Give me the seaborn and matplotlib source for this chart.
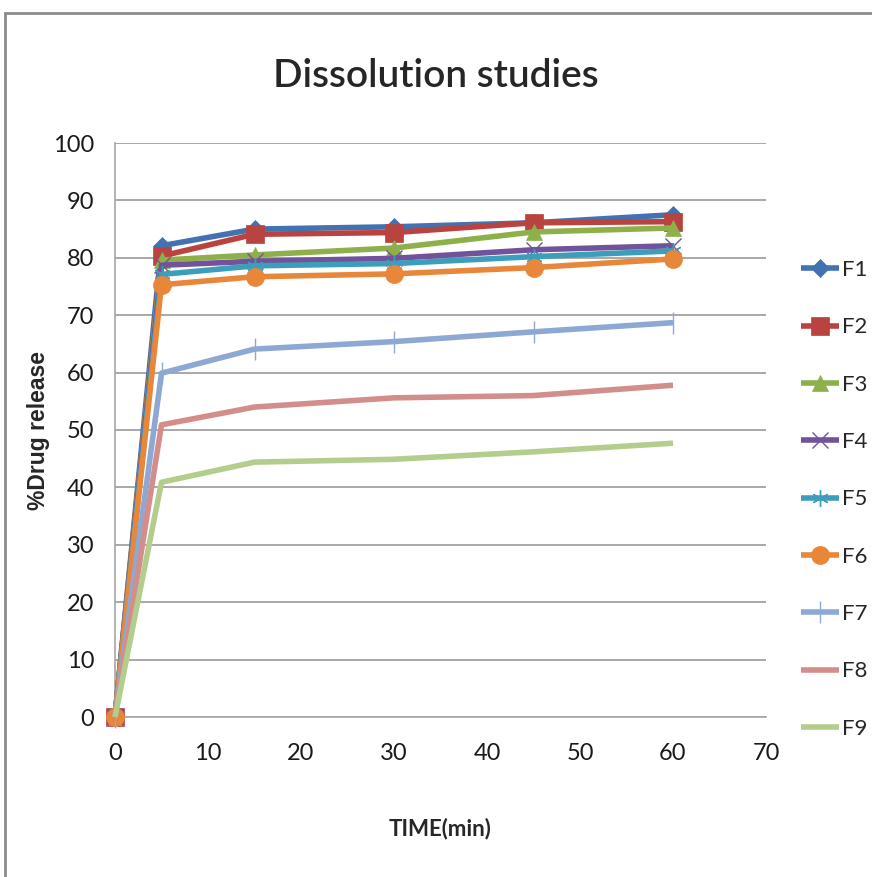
import matplotlib
matplotlib.use("Agg")
import matplotlib.pyplot as plt
import seaborn as sns
import pandas as pd
from matplotlib.patches import Rectangle

time_min = [0, 5, 15, 30, 45, 60]
F1 = [0, 82.1, 85.0, 85.4, 86.1, 87.5]
F2 = [0, 80.3, 84.1, 84.4, 86.1, 86.3]
F3 = [0, 79.6, 80.5, 81.7, 84.5, 85.2]
F4 = [0, 78.7, 79.4, 79.9, 81.4, 82.1]
F5 = [0, 77.1, 78.6, 79.0, 80.2, 81.2]
F6 = [0, 75.3, 76.7, 77.2, 78.3, 79.8]
F7 = [0, 59.9, 64.1, 65.4, 67.1, 68.7]
F8 = [0, 50.9, 54.0, 55.6, 56.0, 57.8]
F9 = [0, 40.9, 44.4, 44.9, 46.2, 47.7]

series_names = ["F1", "F2", "F3", "F4", "F5", "F6", "F7", "F8", "F9"]
series_values = [F1, F2, F3, F4, F5, F6, F7, F8, F9]
x_ticks = [0, 10, 20, 30, 40, 50, 60, 70]
y_ticks = [0, 10, 20, 30, 40, 50, 60, 70, 80, 90, 100]

colors = ["#4272B2", "#B8433F", "#8DB04A", "#72529A", "#3D9EBC",
          "#E8863A", "#8EA8D4", "#D38D8B", "#B3CD8C"]
markers = ["D", "s", "^", "x", (6, 2, 0), "o", "|", None, None]
msizes = [9, 13, 11, 11, 12, 13, 16, 0, 0]

sns.set_theme(style="white")
fam = ["Lato", "DejaVu Sans"]
plt.rcParams["font.family"] = fam

rows = []
for name, vals in zip(series_names, series_values):
    for t, v in zip(time_min, vals):
        rows.append({"time": t, "release": v, "series": name})
df = pd.DataFrame(rows)

fig = plt.figure(figsize=(8.72, 8.77), dpi=100)
ax = fig.add_axes([115/872, 1 - 717/877, (766-115)/872, (717-143)/877])

# outer chart border
fig.patches.append(Rectangle((5/872, -0.05), 1.1, 1 - 13/877 + 0.05,
                             transform=fig.transFigure, fill=False,
                             edgecolor="#8C8C8C", linewidth=2.0))

for name, col, mk, ms in zip(series_names, colors, markers, msizes):
    sub = df[df["series"] == name]
    kw = {}
    if mk is not None:
        thin = mk in ("x", (6, 2, 0), "|")
        kw = dict(marker=mk, markersize=ms, markeredgecolor=col,
                  markerfacecolor=col, markeredgewidth=1.0 if thin else 0.5)
    sns.lineplot(data=sub, x="time", y="release", color=col, linewidth=4.0,
                 ax=ax, label=name, solid_capstyle="butt", clip_on=False,
                 zorder=3, **kw)

ax.set_xlim(0, 70)
ax.set_ylim(0, 100)
ax.set_xticks(x_ticks)
ax.set_yticks(y_ticks)
ax.yaxis.grid(True, color="#9A9A9A", linewidth=1.2)
ax.xaxis.grid(False)
for s in ["top", "right"]:
    ax.spines[s].set_visible(False)
for s in ["left", "bottom"]:
    ax.spines[s].set_color("#A6A6A6")
    ax.spines[s].set_linewidth(1.2)
ax.tick_params(axis="both", which="major", direction="out", length=7,
               width=1.2, color="#A6A6A6", labelsize=17, labelcolor="#1a1a1a")
ax.tick_params(axis="y", pad=8)
ax.tick_params(axis="x", pad=12)
ax.set_axisbelow(True)

ax.set_xlabel("TIME(min)", fontsize=16, fontweight="bold")
ax.xaxis.set_label_coords(0.5, -0.175)
ax.set_ylabel("%Drug release", fontsize=16.5, fontweight="bold",
              family=["Liberation Sans", "DejaVu Sans"])
ax.yaxis.set_label_coords(-0.1, 0.5)

fig.suptitle("Dissolution studies", fontsize=28, fontweight="semibold",
             y=1 - 58/877, va="top")

leg = ax.legend(loc="upper left", bbox_to_anchor=(801/872, 1 - 260/877),
                bbox_transform=fig.transFigure, frameon=False, fontsize=16,
                handlelength=1.7, handletextpad=0.15, labelspacing=1.68,
                borderpad=0, borderaxespad=0)
for h in leg.legend_handles:
    h.set_linewidth(4.0)

fig.savefig("out.png", dpi=100)
